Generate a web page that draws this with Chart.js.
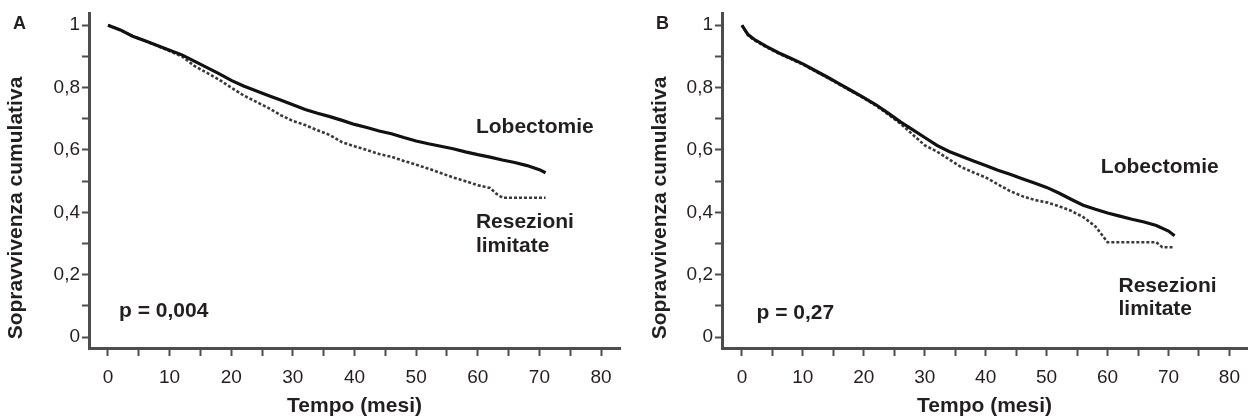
<!DOCTYPE html>
<html>
<head>
<meta charset="utf-8">
<script src="https://cdn.jsdelivr.net/npm/chart.js@4.4.1/dist/chart.umd.min.js"></script>
<style>
  html, body { margin: 0; padding: 0; background: #fff; }
  .panel { position: absolute; top: 0; width: 625px; height: 420px; }
  #boxA { left: 0; }
  #boxB { left: 625px; }
</style>
</head>
<body>
<div class="panel" id="boxA"><canvas id="chartA"></canvas></div>
<div class="panel" id="boxB"><canvas id="chartB"></canvas></div>
<script>
// tick values
var xTicks = [0, 5, 10, 15, 20, 25, 30, 35, 40, 45, 50, 55, 60, 65, 70, 75, 80];
var yTicks = [0, 0.1, 0.2, 0.3, 0.4, 0.5, 0.6, 0.7, 0.8, 0.9, 1];

// panel A - survival
var mesiLobA = [0, 2, 4, 6, 8, 10, 12, 14, 16, 18, 20, 22, 24, 26, 28, 30, 32, 34, 36, 38, 40, 42, 44, 46, 48, 50, 52, 54, 56, 58, 60, 62, 64, 66, 68, 70, 71];
var lobA = [1, 0.985, 0.965, 0.95, 0.935, 0.92, 0.905, 0.885, 0.865, 0.845, 0.823, 0.805, 0.79, 0.775, 0.76, 0.745, 0.73, 0.718, 0.707, 0.695, 0.682, 0.672, 0.661, 0.652, 0.64, 0.629, 0.62, 0.612, 0.604, 0.594, 0.585, 0.577, 0.568, 0.56, 0.55, 0.537, 0.527];
var mesiResA = [0, 2, 4, 6, 8, 10, 12, 14, 16, 18, 20, 22, 24, 26, 28, 30, 32, 34, 36, 38, 40, 42, 44, 46, 48, 50, 52, 54, 56, 58, 60, 62, 63, 64, 66, 68, 70, 71];
var resA = [1, 0.985, 0.965, 0.95, 0.934, 0.917, 0.9, 0.87, 0.848, 0.826, 0.8, 0.775, 0.755, 0.735, 0.712, 0.693, 0.68, 0.663, 0.648, 0.625, 0.612, 0.6, 0.587, 0.578, 0.565, 0.553, 0.54, 0.526, 0.512, 0.5, 0.487, 0.478, 0.46, 0.447, 0.447, 0.447, 0.447, 0.447];

// panel B
var mesiLobB = [0, 1, 2, 4, 6, 8, 10, 12, 14, 16, 18, 20, 22, 24, 26, 28, 30, 32, 34, 36, 38, 40, 42, 44, 46, 48, 50, 52, 54, 56, 58, 60, 62, 64, 66, 68, 70, 71];
var lobB = [1, 0.97, 0.955, 0.932, 0.912, 0.894, 0.876, 0.855, 0.834, 0.812, 0.79, 0.768, 0.745, 0.718, 0.69, 0.665, 0.64, 0.615, 0.595, 0.58, 0.565, 0.55, 0.535, 0.522, 0.508, 0.494, 0.48, 0.462, 0.442, 0.423, 0.41, 0.398, 0.388, 0.378, 0.369, 0.358, 0.34, 0.325];
var mesiResB = [0, 1, 2, 4, 6, 8, 10, 12, 14, 16, 18, 20, 22, 24, 26, 28, 30, 32, 34, 36, 38, 40, 42, 44, 46, 48, 50, 52, 54, 56, 58, 59, 60, 62, 64, 66, 68, 69, 71];
var resB = [1, 0.968, 0.952, 0.93, 0.91, 0.892, 0.874, 0.853, 0.832, 0.81, 0.788, 0.766, 0.742, 0.714, 0.685, 0.65, 0.615, 0.595, 0.57, 0.545, 0.528, 0.512, 0.49, 0.468, 0.452, 0.44, 0.432, 0.42, 0.405, 0.385, 0.355, 0.33, 0.304, 0.304, 0.304, 0.304, 0.304, 0.288, 0.288];

var FONT = "'Liberation Sans', Arial, Helvetica, sans-serif";
var INK = "#231f20";
var AXIS = "#4d4d4d";

function toPoints(xs, ys) {
  return xs.map(function(x, i) { return {x: x, y: ys[i]}; });
}

function yLabel(v) {
  var t = Math.round(v * 10);
  if (t % 2 !== 0) return "";
  if (t === 0) return "0";
  if (t === 10) return "1";
  return (t / 10).toFixed(1).replace(".", ",");
}

// letters, y title and text notes drawn on top
var notesPlugin = {
  id: "notes",
  afterDraw: function(chart, args, opts) {
    var ctx = chart.ctx;
    var sx = chart.scales.x, sy = chart.scales.y;
    ctx.save();
    ctx.fillStyle = INK;
    ctx.textBaseline = "middle";
    ctx.textAlign = "left";
    ctx.font = "bold 18px " + FONT;
    ctx.fillText(opts.letter, opts.letterX, 24);
    ctx.font = "bold 21px " + FONT;
    opts.notes.forEach(function(n) {
      ctx.fillText(n.text, sx.getPixelForValue(n.x), sy.getPixelForValue(n.y));
    });
    // y axis title, sits a bit low like in the print
    ctx.translate(opts.titleX, 208);
    ctx.rotate(-Math.PI / 2);
    ctx.textAlign = "center";
    ctx.fillText("Sopravvivenza cumulativa", 0, 0);
    ctx.restore();
  }
};

function makeChart(id, cfg) {
  return new Chart(id, {
    type: "line",
    data: {
      datasets: [{
        label: "Lobectomie",
        data: toPoints(cfg.mesiLob, cfg.lob),
        borderColor: "#111",
        borderWidth: 3.2,
        pointRadius: 0,
        tension: 0
      }, {
        label: "Resezioni limitate",
        data: toPoints(cfg.mesiRes, cfg.res),
        borderColor: "#3a3a3a",
        borderWidth: 2.6,
        borderDash: [3, 2],
        pointRadius: 0,
        tension: 0
      }]
    },
    options: {
      responsive: true,
      maintainAspectRatio: false,
      animation: false,
      layout: { padding: { top: 12, right: cfg.padRight, left: 0, bottom: 0 } },
      plugins: {
        legend: { display: false },
        tooltip: { enabled: false },
        notes: { letter: cfg.letter, letterX: cfg.letterX, titleX: cfg.titleX, notes: cfg.notes }
      },
      scales: {
        x: {
          type: "linear",
          min: cfg.xMin,
          max: cfg.xMax,
          afterBuildTicks: function(s) { s.ticks = xTicks.map(function(v) { return {value: v}; }); },
          afterFit: function(s) { s.height = 72; },
          border: { display: true, color: AXIS, width: 3 },
          grid: { drawOnChartArea: false, drawTicks: true, tickLength: 8, tickColor: AXIS, tickWidth: 2 },
          ticks: {
            autoSkip: false,
            maxRotation: 0,
            padding: 10,
            color: INK,
            font: { family: FONT, size: 19 },
            callback: function(v) { return v % 10 === 0 ? String(v) : ""; }
          },
          title: {
            display: true,
            text: "Tempo (mesi)",
            color: INK,
            font: { family: FONT, size: 21, weight: "bold" },
            padding: { top: 0, bottom: 1 }
          }
        },
        y: {
          min: -0.035,
          max: 1.038,
          afterBuildTicks: function(s) { s.ticks = yTicks.map(function(v) { return {value: v}; }); },
          afterFit: function(s) { s.width = cfg.yWidth; },
          border: { display: true, color: AXIS, width: 3 },
          grid: { drawOnChartArea: false, drawTicks: true, tickLength: 7, tickColor: AXIS, tickWidth: 2 },
          ticks: {
            autoSkip: false,
            padding: 2,
            color: INK,
            font: { family: FONT, size: 19 },
            callback: function(v) { return yLabel(v); }
          },
          title: { display: false }
        }
      }
    },
    plugins: [notesPlugin]
  });
}

makeChart("chartA", {
  mesiLob: mesiLobA, lob: lobA, mesiRes: mesiResA, res: resA,
  xMin: -3.08, xMax: 83.08, yWidth: 89, padRight: 5,
  letter: "A", letterX: 13, titleX: 16,
  notes: [
    {text: "Lobectomie", x: 59.7, y: 0.673},
    {text: "Resezioni", x: 59.7, y: 0.367},
    {text: "limitate", x: 59.7, y: 0.293},
    {text: "p = 0,004", x: 1.8, y: 0.083}
  ]
});

makeChart("chartB", {
  mesiLob: mesiLobB, lob: lobB, mesiRes: mesiResB, res: resB,
  xMin: -3.27, xMax: 82.9, yWidth: 97, padRight: 0,
  letter: "B", letterX: 31, titleX: 35,
  notes: [
    {text: "Lobectomie", x: 58.9, y: 0.545},
    {text: "Resezioni", x: 61.8, y: 0.163},
    {text: "limitate", x: 61.8, y: 0.089},
    {text: "p = 0,27", x: 2.4, y: 0.077}
  ]
});
</script>
</body>
</html>
